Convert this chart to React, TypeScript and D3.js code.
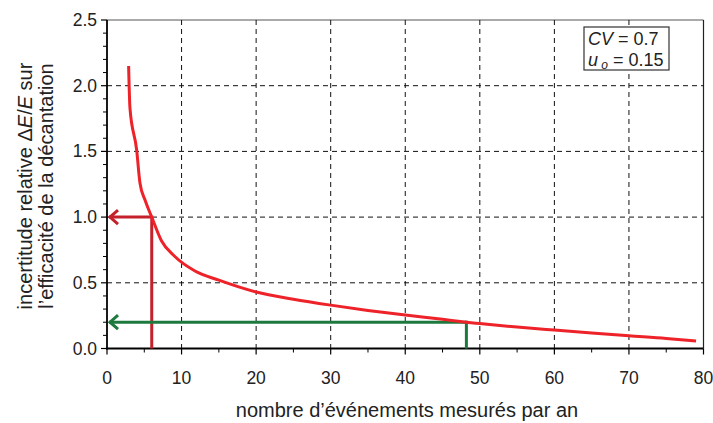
import React from "react";
import * as d3 from "d3";

const curveX = [2.9, 3.08, 3.98, 4.42, 5.1, 6.0, 7.3, 9.1, 11.8, 15, 20, 25, 30, 35, 40, 45, 48.2, 50, 55, 60, 65, 70, 75, 79];
const curveY = [2.15, 1.83, 1.51, 1.26, 1.13, 1.0, 0.82, 0.7, 0.59, 0.52, 0.43, 0.375, 0.33, 0.29, 0.255, 0.222, 0.2, 0.19, 0.163, 0.14, 0.118, 0.097, 0.077, 0.057];
const xTicks = [0, 10, 20, 30, 40, 50, 60, 70, 80];
const yTicks = [0, 0.5, 1.0, 1.5, 2.0, 2.5];
const xMinor = [5, 15, 25, 35, 45, 55, 65, 75];
const yMinor = [0.1, 0.2, 0.3, 0.4, 0.6, 0.7, 0.8, 0.9, 1.1, 1.2, 1.3, 1.4, 1.6, 1.7, 1.8, 1.9, 2.1, 2.2, 2.3, 2.4];
const redRead = { x: 6.0, y: 1.0 };
const greenRead = { x: 48.2, y: 0.2 };

const W = 713, H = 423;
const L = 107, R = 703.5, T = 20, B = 348.5;

export default function App() {
  const x = d3.scaleLinear().domain([0, 80]).range([L, R]);
  const y = d3.scaleLinear().domain([0, 2.5]).range([B, T]);
  const pts = curveX.map((v, i) => [v, curveY[i]] as [number, number]);
  const line = d3.line<[number, number]>().x(d => x(d[0])).y(d => y(d[1])).curve(d3.curveMonotoneX);
  const font = "'Liberation Sans', Arial, sans-serif";
  const red = "#c4212b";
  const green = "#1c7a3e";
  const arrow = (yy: number, x0: number, color: string) => {
    const ax = x(0) + 2;
    const py = y(yy);
    return (
      <g stroke={color} strokeWidth={3} fill="none">
        <line x1={x(x0)} y1={py} x2={ax} y2={py} />
        <line x1={x(x0)} y1={py - 1.5} x2={x(x0)} y2={y(0)} />
        <polyline points={`${ax + 9},${py - 7} ${ax + 1},${py} ${ax + 9},${py + 7}`} strokeLinejoin="miter" />
      </g>
    );
  };
  return (
    <div style={{ position: "absolute", left: 0, top: 0 }}>
      <svg width={W} height={H} style={{ display: "block" }} fontFamily={font}>
        <rect x={0} y={0} width={W} height={H} fill="#fff" />
        <line x1={L} y1={T} x2={R} y2={T} stroke="#555" strokeWidth={1} />
        <line x1={R} y1={T} x2={R} y2={B} stroke="#222" strokeWidth={1.2} />
        {xTicks.filter(t => t > 0 && t < 80).map(t => (
          <line key={"gx" + t} x1={x(t)} x2={x(t)} y1={T} y2={B} stroke="#111" strokeWidth={1} strokeDasharray="5,4" />
        ))}
        {yTicks.filter(t => t > 0 && t < 2.5).map(t => (
          <line key={"gy" + t} x1={L} x2={R} y1={y(t)} y2={y(t)} stroke="#111" strokeWidth={1} strokeDasharray="5,4" />
        ))}
        <line x1={L} y1={T} x2={L} y2={B + 1} stroke="#000" strokeWidth={1.8} />
        <line x1={L - 1} y1={B} x2={R} y2={B} stroke="#000" strokeWidth={1.8} />
        {yTicks.map(t => (
          <g key={"yt" + t}>
            <line x1={L - 6} x2={L} y1={y(t)} y2={y(t)} stroke="#000" strokeWidth={1.2} />
            <text x={L - 10} y={y(t) + 6} fontSize={17.5} textAnchor="end" fill="#222">{t.toFixed(1)}</text>
          </g>
        ))}
        {yMinor.map(t => (
          <line key={"ym" + t} x1={L - 4} x2={L} y1={y(t)} y2={y(t)} stroke="#000" strokeWidth={1} />
        ))}
        {xTicks.map(t => (
          <g key={"xt" + t}>
            <line x1={x(t)} x2={x(t)} y1={B} y2={B + 6} stroke="#000" strokeWidth={1.2} />
            <text x={x(t)} y={B + 35} fontSize={17.5} textAnchor="middle" fill="#222">{t}</text>
          </g>
        ))}
        {xMinor.map(t => (
          <line key={"xm" + t} x1={x(t)} x2={x(t)} y1={B} y2={B + 4} stroke="#000" strokeWidth={1} />
        ))}
        {arrow(redRead.y, redRead.x, red)}
        {arrow(greenRead.y, greenRead.x, green)}
        <path d={line(pts) || ""} fill="none" stroke="#ee2229" strokeWidth={3} />
        <rect x={584} y={27} width={85} height={43} fill="#fff" stroke="#333" strokeWidth={1.2} />
        <text x={588} y={45} fontSize={18} fill="#222"><tspan fontStyle="italic">CV</tspan> = 0.7</text>
        <text x={588} y={66} fontSize={18} fill="#222"><tspan fontStyle="italic">u</tspan><tspan fontStyle="italic" fontSize={12} dy={3}> o</tspan><tspan dy={-3}> = 0.15</tspan></text>
        <text x={407} y={417} fontSize={20} textAnchor="middle" fill="#222">nombre d’événements mesurés par an</text>
        <g transform="translate(32,186) rotate(-90)">
          <text x={0} y={0} fontSize={20} textAnchor="middle" fill="#222">incertitude relative Δ<tspan fontStyle="italic">E</tspan>/<tspan fontStyle="italic">E</tspan> sur</text>
          <text x={0} y={21} fontSize={20} textAnchor="middle" fill="#222">l’efficacité de la décantation</text>
        </g>
      </svg>
    </div>
  );
}
